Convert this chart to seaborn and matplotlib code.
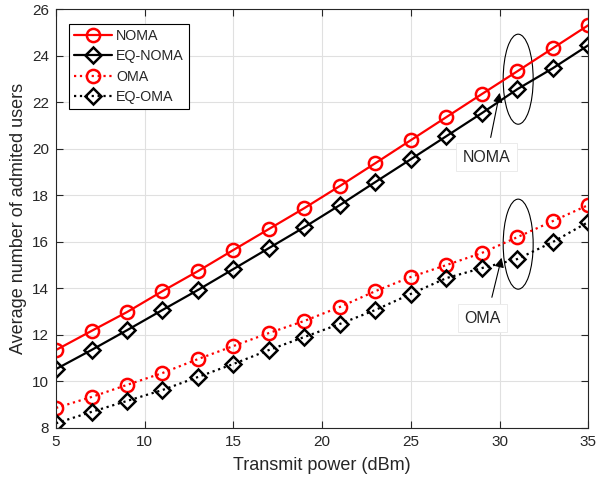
import matplotlib
matplotlib.use("Agg")
import matplotlib.pyplot as plt
from matplotlib.patches import Ellipse
import seaborn as sns
import pandas as pd
import numpy as np

power = [5, 7, 9, 11, 13, 15, 17, 19, 21, 23, 25, 27, 29, 31, 33, 35]
noma = [11.35, 12.17, 12.98, 13.88, 14.74, 15.65, 16.55, 17.45, 18.40, 19.38, 20.37, 21.36, 22.35, 23.33, 24.32, 25.31]
eq_noma = [10.53, 11.35, 12.20, 13.07, 13.93, 14.83, 15.73, 16.63, 17.58, 18.57, 19.55, 20.54, 21.53, 22.56, 23.46, 24.45]
oma = [8.86, 9.33, 9.85, 10.36, 10.96, 11.52, 12.08, 12.60, 13.20, 13.88, 14.49, 15.00, 15.52, 16.20, 16.89, 17.58]
eq_oma = [8.20, 8.69, 9.16, 9.63, 10.19, 10.75, 11.35, 11.91, 12.47, 13.07, 13.76, 14.44, 14.87, 15.26, 15.99, 16.85]

series = {"NOMA": noma, "EQ-NOMA": eq_noma, "OMA": oma, "EQ-OMA": eq_oma}
styles = {
    "NOMA": dict(color="#ff0000", ls="-", marker="o"),
    "EQ-NOMA": dict(color="black", ls="-", marker="D"),
    "OMA": dict(color="#ff0000", ls=":", marker="o"),
    "EQ-OMA": dict(color="black", ls=":", marker="D"),
}

sns.set_theme(style="whitegrid")
plt.rcParams["font.family"] = ["Liberation Sans", "DejaVu Sans"]

fig = plt.figure(figsize=(5.96, 4.83), dpi=100)
ax = fig.add_axes([0.094, 0.114, 0.893, 0.867])

for name, vals in series.items():
    df = pd.DataFrame({"x": power, "y": vals})
    st = styles[name]
    ms = 9.5 if st["marker"] == "o" else 8
    sns.lineplot(data=df, x="x", y="y", ax=ax, color=st["color"], linestyle=st["ls"],
                 marker=st["marker"], markersize=ms, markerfacecolor="none",
                 markeredgecolor=st["color"], markeredgewidth=1.8, linewidth=1.6,
                 label=name)

ax.set_xlim(5, 35)
ax.set_ylim(8, 26)
ax.set_xticks([5, 10, 15, 20, 25, 30, 35])
ax.set_yticks(np.arange(8, 27, 2))
ax.set_xlabel("Transmit power (dBm)", fontsize=13, color="#262626", labelpad=6)
ax.set_ylabel("Average number of admited users", fontsize=13, color="#262626", labelpad=4)
ax.tick_params(axis="both", labelsize=11, colors="#262626", direction="in", length=5,
               top=True, right=True, bottom=True, left=True, width=0.8, pad=5)
ax.grid(True, color="#e0e0e0", linewidth=0.8)
for s in ax.spines.values():
    s.set_color("#262626")
    s.set_linewidth(0.8)

leg = ax.legend(loc="upper left", bbox_to_anchor=(0.024, 0.965), fontsize=10.3,
                frameon=True, fancybox=False, edgecolor="black", framealpha=1,
                handlelength=2.7, borderpad=0.35, labelspacing=0.45, handletextpad=0.25,
                borderaxespad=0)
leg.get_frame().set_linewidth(0.8)

# Annotations
ax.add_patch(Ellipse((31.05, 22.99), 1.69, 3.87, fill=False, edgecolor="black", linewidth=0.8))
ax.add_patch(Ellipse((31.05, 15.9), 1.69, 3.87, fill=False, edgecolor="black", linewidth=0.8))
ax.annotate("", xy=(30.04, 22.52), xytext=(29.47, 20.37),
            arrowprops=dict(arrowstyle="-|>", color="black", lw=0.8, mutation_scale=14))
ax.annotate("", xy=(30.15, 15.43), xytext=(29.53, 13.5),
            arrowprops=dict(arrowstyle="-|>", color="black", lw=0.8, mutation_scale=14))
ax.text(29.25, 19.64, "NOMA", fontsize=11.5, ha="center", va="center", color="#262626",
        bbox=dict(boxstyle="square,pad=0.4", facecolor="white", edgecolor="#e8e8e8", linewidth=0.6))
ax.text(29.05, 12.72, "OMA", fontsize=11.5, ha="center", va="center", color="#262626",
        bbox=dict(boxstyle="square,pad=0.4", facecolor="white", edgecolor="#e8e8e8", linewidth=0.6))

fig.savefig("out.png", dpi=100)
